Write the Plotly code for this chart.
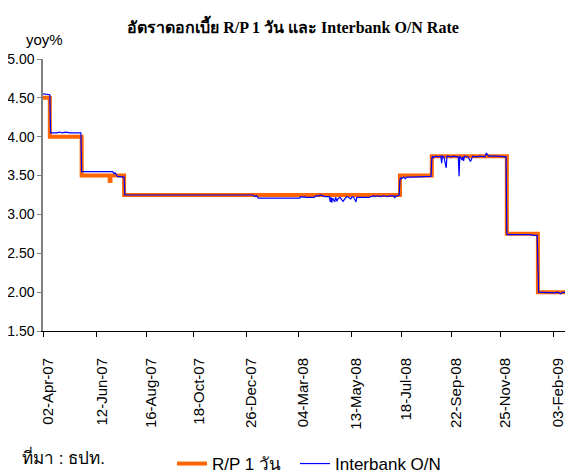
import plotly.graph_objects as go

# R/P 1 day rate, step changes (held until next date)
rp_dates = ["2007-04-02", "2007-04-11", "2007-05-23", "2007-06-29", "2007-06-30",
            "2007-07-18", "2008-07-16", "2008-08-27", "2008-12-04", "2009-01-14",
            "2009-02-25", "2009-02-27"]
rp_values = [4.50, 4.00, 3.50, 3.43, 3.50, 3.25, 3.50, 3.75, 2.75, 2.00, 1.50, 1.50]

# Interbank O/N rate
ib_dates = [
    "2007-04-02", "2007-04-11", "2007-04-12", "2007-04-20", "2007-04-24", "2007-04-27",
    "2007-05-02", "2007-05-08", "2007-05-22", "2007-05-23", "2007-07-03", "2007-07-05",
    "2007-07-06", "2007-07-09", "2007-07-18", "2007-07-19", "2008-01-04", "2008-01-07",
    "2008-01-09", "2008-01-11", "2008-03-06", "2008-03-07", "2008-03-10", "2008-03-12",
    "2008-03-13", "2008-03-25", "2008-03-27", "2008-03-31", "2008-04-02", "2008-04-04",
    "2008-04-08", "2008-04-14", "2008-04-15", "2008-04-16", "2008-04-17", "2008-04-18",
    "2008-04-21", "2008-04-22", "2008-04-24", "2008-04-25", "2008-04-28", "2008-04-30",
    "2008-05-02", "2008-05-05", "2008-05-07", "2008-05-09", "2008-05-12", "2008-05-14",
    "2008-05-16", "2008-05-19", "2008-05-20", "2008-05-28", "2008-06-05", "2008-06-09",
    "2008-06-11", "2008-06-13", "2008-06-17", "2008-06-20", "2008-06-24", "2008-06-30",
    "2008-07-02", "2008-07-08", "2008-07-09", "2008-07-10", "2008-07-14", "2008-07-15",
    "2008-07-16", "2008-07-17", "2008-07-18", "2008-07-21", "2008-07-23", "2008-07-25",
    "2008-08-01", "2008-08-15", "2008-08-26", "2008-08-27", "2008-08-28", "2008-08-29",
    "2008-09-01", "2008-09-04", "2008-09-08", "2008-09-09", "2008-09-10", "2008-09-12",
    "2008-09-15", "2008-09-16", "2008-09-22", "2008-09-25", "2008-10-01", "2008-10-02",
    "2008-10-03", "2008-10-06", "2008-10-07", "2008-10-08", "2008-10-09", "2008-10-14",
    "2008-10-17", "2008-10-20", "2008-10-24", "2008-10-30", "2008-11-05", "2008-11-07",
    "2008-11-10", "2008-11-20", "2008-12-03", "2008-12-04", "2008-12-05", "2009-01-05",
    "2009-01-07", "2009-01-13", "2009-01-14", "2009-01-15", "2009-02-05", "2009-02-09",
    "2009-02-13", "2009-02-16", "2009-02-25", "2009-02-26", "2009-02-27",
]
ib_values = [
    4.55, 4.54, 4.05, 4.05, 4.06, 4.05,
    4.06, 4.05, 4.05, 3.55, 3.55, 3.52,
    3.54, 3.49, 3.48, 3.25, 3.25, 3.23,
    3.24, 3.21, 3.21, 3.23, 3.22, 3.23,
    3.22, 3.22, 3.24, 3.24, 3.25, 3.24,
    3.23, 3.23, 3.16, 3.22, 3.15, 3.21,
    3.16, 3.22, 3.17, 3.20, 3.22, 3.19,
    3.17, 3.21, 3.23, 3.22, 3.20, 3.23,
    3.22, 3.16, 3.22, 3.22, 3.22, 3.23,
    3.24, 3.23, 3.24, 3.23, 3.24, 3.23,
    3.24, 3.24, 3.21, 3.23, 3.25, 3.25,
    3.45, 3.47, 3.46, 3.48, 3.46, 3.48,
    3.48, 3.49, 3.49, 3.72, 3.75, 3.73,
    3.75, 3.74, 3.75, 3.66, 3.75, 3.74,
    3.60, 3.75, 3.74, 3.75, 3.74, 3.49,
    3.75, 3.70, 3.74, 3.69, 3.75, 3.74,
    3.68, 3.75, 3.74, 3.75, 3.74, 3.79,
    3.75, 3.75, 3.74, 2.76, 2.74, 2.74,
    2.73, 2.73, 2.01, 2.00, 1.99, 2.00,
    1.98, 2.00, 1.98, 1.50, 1.50,
]

tick_dates = ["2007-04-02", "2007-06-12", "2007-08-16", "2007-10-18", "2007-12-26",
              "2008-03-04", "2008-05-13", "2008-07-18", "2008-09-22", "2008-11-25",
              "2009-02-03"]
tick_labels = ["02-Apr-07", "12-Jun-07", "16-Aug-07", "18-Oct-07", "26-Dec-07",
               "04-Mar-08", "13-May-08", "18-Jul-08", "22-Sep-08", "25-Nov-08",
               "03-Feb-09"]
y_ticks = [1.5, 2.0, 2.5, 3.0, 3.5, 4.0, 4.5, 5.0]

# the page body has an 8px margin, so the figure is 8px smaller and all
# positions below are taken from the reference minus that offset
OFF = 8
W, H = 573 - OFF, 475 - OFF
L, R, T, B = 43 - OFF, 1, 59 - OFF, 144
PW, PH = W - L - R, H - T - B
SANS = "Liberation Sans, Arial, sans-serif"
NARROW = "Liberation Sans Narrow, Arial Narrow, Liberation Sans, sans-serif"


def px_to_paper(px, py):
    # reference pixel -> paper coords
    return (px - OFF - L) / PW, (H - B - (py - OFF)) / PH


fig = go.Figure()
fig.add_trace(go.Scatter(
    x=rp_dates, y=rp_values, name="R/P 1 วัน", mode="lines",
    line=dict(color="#ff6600", width=4, shape="hv"), legend="legend", showlegend=True,
))
fig.add_trace(go.Scatter(
    x=ib_dates, y=ib_values, name="Interbank O/N", mode="lines",
    line=dict(color="#0000ff", width=1.2), legend="legend2", showlegend=True,
))

yoy_x, yoy_y = px_to_paper(44, 39)
src_x, src_y = px_to_paper(20, 457)

fig.update_layout(
    width=W, height=H,
    margin=dict(l=L, r=R, t=T, b=B, autoexpand=False),
    showlegend=True,
    plot_bgcolor="white", paper_bgcolor="white",
    font=dict(family=SANS, size=14, color="black"),
    title=dict(
        text="<b>อัตราดอกเบี้ย R/P 1 วัน และ Interbank O/N Rate</b>",
        font=dict(family="Liberation Serif, Times New Roman, serif", size=16, color="black"),
        x=(293 - OFF) / W, xanchor="center", xref="container",
        y=1 - (27 - OFF) / H, yanchor="middle", yref="container",
    ),
    legend=dict(
        xref="container", yref="container", x=(172 - OFF) / W, y=1 - (464 - OFF) / H,
        xanchor="left", yanchor="middle", orientation="h",
        font=dict(family=NARROW, size=17), bgcolor="rgba(0,0,0,0)",
    ),
    legend2=dict(
        xref="container", yref="container", x=(295 - OFF) / W, y=1 - (464 - OFF) / H,
        xanchor="left", yanchor="middle", orientation="h",
        font=dict(family=NARROW, size=17), bgcolor="rgba(0,0,0,0)",
    ),
    annotations=[
        dict(text="yoy%", xref="paper", yref="paper", x=yoy_x, y=yoy_y,
             xanchor="center", yanchor="middle", showarrow=False,
             font=dict(family=SANS, size=15)),
        dict(text="ที่มา : ธปท.", xref="paper", yref="paper",
             x=src_x, y=src_y, xanchor="left", yanchor="middle",
             showarrow=False, font=dict(family=NARROW, size=17)),
    ],
)

fig.update_xaxes(
    type="date", range=["2007-04-02", "2009-02-28"],
    tickmode="array", tickvals=tick_dates, ticktext=tick_labels, tickangle=-90,
    ticks="outside", ticklen=5, tickcolor="black",
    showline=True, linecolor="black", linewidth=1,
    showgrid=False, zeroline=False, automargin=False,
    ticklabelstandoff=15, ticklabelshift=5,
    tickfont=dict(family=SANS, size=15),
)
fig.update_yaxes(
    range=[1.5, 5.0], tickmode="array", tickvals=y_ticks, tickformat=".2f",
    ticks="outside", ticklen=4, tickcolor="#808080",
    showline=True, linecolor="#808080", linewidth=1.5,
    showgrid=False, zeroline=False, automargin=False,
    tickfont=dict(family=SANS, size=14),
)

fig.write_html("out.html")
